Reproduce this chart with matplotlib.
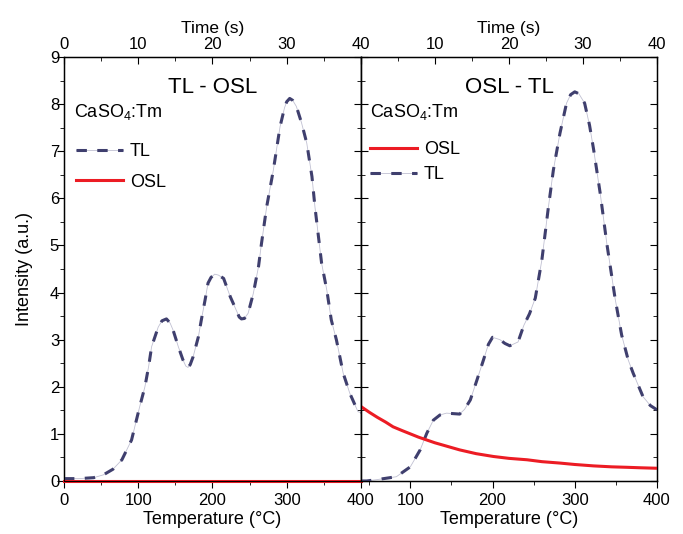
import matplotlib
matplotlib.use('Agg')
import matplotlib.pyplot as plt
from matplotlib.ticker import MultipleLocator

plt.rcParams['font.family'] = ['Liberation Sans', 'DejaVu Sans']
plt.rcParams['mathtext.fontset'] = 'custom'
plt.rcParams['mathtext.rm'] = 'Liberation Sans'
plt.rcParams['mathtext.it'] = 'Liberation Sans:italic'

# TL - OSL (left panel)
tl1_temp = [0, 20, 40, 53, 66, 78, 91, 102, 109, 114, 118, 127, 132, 138, 143, 147, 154,
            160, 164, 167, 170, 174, 181, 185, 190, 194, 198, 203, 208, 215, 224, 233,
            236, 239, 243, 248, 255, 262, 266, 273, 282, 291, 297, 300, 304, 308, 313,
            320, 327, 334, 338, 347, 354, 360, 367, 376, 385, 396, 400]
tl1_int = [0.05, 0.05, 0.07, 0.13, 0.25, 0.45, 0.87, 1.58, 2.0, 2.43, 2.85, 3.27, 3.4,
           3.44, 3.35, 3.2, 2.85, 2.58, 2.44, 2.41, 2.47, 2.64, 3.06, 3.42, 3.84, 4.2,
           4.32, 4.39, 4.37, 4.3, 3.91, 3.59, 3.48, 3.44, 3.45, 3.56, 3.98, 4.55, 5.04,
           5.82, 6.6, 7.52, 7.92, 8.05, 8.12, 8.08, 7.95, 7.6, 7.17, 6.46, 5.82, 4.62,
           4.05, 3.42, 2.99, 2.29, 1.86, 1.47, 1.45]
osl1_temp = [0, 400]
osl1_int = [0.0, 0.0]

# OSL - TL (right panel)
tl2_temp = [40, 47, 60, 83, 100, 112, 120, 128, 136, 144, 160, 166, 173, 181, 189, 195,
            200, 209, 215, 221, 231, 238, 245, 252, 260, 268, 274, 282, 290, 295, 300,
            305, 312, 318, 323, 331, 339, 349, 357, 365, 371, 383, 392, 400]
tl2_int = [0.0, 0.0, 0.03, 0.09, 0.3, 0.66, 1.01, 1.29, 1.4, 1.44, 1.42, 1.52, 1.72, 2.14,
           2.57, 2.9, 3.05, 3.0, 2.92, 2.87, 2.95, 3.3, 3.55, 3.88, 4.69, 5.82, 6.6, 7.38,
           8.02, 8.2, 8.26, 8.22, 8.02, 7.55, 7.03, 6.1, 5.04, 3.88, 3.1, 2.57, 2.29, 1.79,
           1.6, 1.51]
osl2_temp = [40, 50, 60, 70, 79, 90, 100, 110, 120, 130, 140, 160, 180, 201, 220, 242,
             260, 282, 300, 323, 345, 364, 380, 400]
osl2_int = [1.58, 1.46, 1.35, 1.25, 1.15, 1.07, 1.0, 0.93, 0.87, 0.81, 0.76, 0.66, 0.58,
            0.52, 0.48, 0.45, 0.41, 0.38, 0.35, 0.32, 0.3, 0.29, 0.28, 0.27]

time_ticks = [0, 10, 20, 30, 40]
TL_COLOR = '#3f3f6e'
OSL_COLOR = '#ec1c24'

fig = plt.figure(figsize=(6.83, 5.34), dpi=100)
ax1 = fig.add_axes([0.0937, 0.0993, 0.4348, 0.794])
ax2 = fig.add_axes([0.5285, 0.0993, 0.4334, 0.794])


def tl_line(ax, x, y):
    faint, = ax.plot(x, y, color='#c0c0d2', lw=0.6, zorder=2)
    dark, = ax.plot(x, y, color=TL_COLOR, lw=2.2, ls=(0, (3.4, 3.4)), zorder=3)
    return (faint, dark)


def style(ax, xmin):
    ax.set_xlim(xmin, 400)
    ax.set_ylim(0, 9)
    ax.xaxis.set_major_locator(MultipleLocator(100))
    ax.xaxis.set_minor_locator(MultipleLocator(50))
    ax.yaxis.set_major_locator(MultipleLocator(1))
    ax.yaxis.set_minor_locator(MultipleLocator(0.5))
    ax.tick_params(axis='x', which='both', direction='out', labelsize=12, top=False)
    ax.tick_params(axis='x', which='major', length=5)
    ax.tick_params(axis='x', which='minor', length=3)
    ax.tick_params(axis='y', which='both', direction='in', right=True, labelsize=12)
    ax.tick_params(axis='y', which='major', length=5)
    ax.tick_params(axis='y', which='minor', length=3)
    ax.set_xlabel('Temperature (°C)', fontsize=13, labelpad=2)
    for s in ax.spines.values():
        s.set_linewidth(1.0)

    top = ax.twiny()
    top.set_xlim(0, 40)
    top.set_xticks(time_ticks)
    top.xaxis.set_minor_locator(MultipleLocator(5))
    top.tick_params(axis='x', which='both', direction='in', labelsize=12)
    top.tick_params(axis='x', which='major', length=5)
    top.tick_params(axis='x', which='minor', length=3)
    top.set_xlabel('Time (s)', fontsize=12.5, labelpad=3)
    return top


# left panel
h_tl1 = tl_line(ax1, tl1_temp, tl1_int)
h_osl1, = ax1.plot(osl1_temp, osl1_int, color=OSL_COLOR, lw=2.2, zorder=4, clip_on=False)
style(ax1, 0)
# y ticks on the outer left side point outward
for t in ax1.yaxis.get_major_ticks() + ax1.yaxis.get_minor_ticks():
    t.tick1line.set_marker(matplotlib.lines.TICKLEFT)
ax1.set_ylabel('Intensity (a.u.)', fontsize=13, labelpad=12)
ax1.text(0.5, 0.928, 'TL - OSL', transform=ax1.transAxes, ha='center', va='center',
         fontsize=16)
ax1.text(0.035, 0.87, 'CaSO$_4$:Tm', transform=ax1.transAxes, ha='left', va='center',
         fontsize=13)
ax1.legend([h_tl1, h_osl1], ['TL', 'OSL'], loc='upper left',
           bbox_to_anchor=(-0.015, 0.835), frameon=False, fontsize=13,
           labelspacing=0.75, handlelength=2.6, handletextpad=0.4)

# right panel
h_osl2, = ax2.plot(osl2_temp, osl2_int, color=OSL_COLOR, lw=2.2, zorder=4)
h_tl2 = tl_line(ax2, tl2_temp, tl2_int)
top2 = style(ax2, 40)
ax2.tick_params(axis='y', which='both', labelleft=False)
top2.set_xticklabels(['', '10', '20', '30', '40'])
ax2.set_xticks([100, 200, 300, 400])
ax2.text(0.5, 0.928, 'OSL - TL', transform=ax2.transAxes, ha='center', va='center',
         fontsize=16)
ax2.text(0.03, 0.87, 'CaSO$_4$:Tm', transform=ax2.transAxes, ha='left', va='center',
         fontsize=13)
ax2.legend([h_osl2, h_tl2], ['OSL', 'TL'], loc='upper left',
           bbox_to_anchor=(-0.025, 0.84), frameon=False, fontsize=13,
           labelspacing=0.45, handlelength=2.6, handletextpad=0.4)

plt.savefig('out.png', dpi=100)
plt.close()
